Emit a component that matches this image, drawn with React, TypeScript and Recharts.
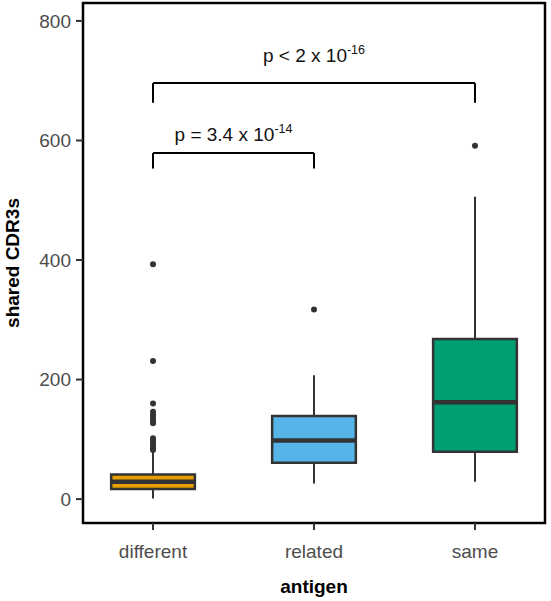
import React from "react";
import {
  ComposedChart,
  ReferenceArea,
  ReferenceLine,
  Scatter,
  XAxis,
  YAxis,
} from "recharts";

// box statistics per antigen group
const categories = ["different", "related", "same"];
const lowerWhisker = [1, 26, 29];
const q1 = [17, 61, 79];
const median = [29, 98, 162];
const q3 = [41, 139, 268];
const upperWhisker = [79, 207, 506];

const outliersDifferent = [393, 231, 160, 146, 141, 136, 131, 127, 102, 97, 93, 89, 85, 82];
const outliersRelated = [317];
const outliersSame = [591];

const yTicks = [0, 200, 400, 600, 800];

// significance brackets
const bracketFrom = [1, 1];
const bracketTo = [2, 3];
const bracketY = [579, 696];
const bracketTip = [553, 663];
const pText = ["p = 3.4 x 10", "p < 2 x 10"];
const pExponent = ["-14", "-16"];

const fills = ["#E69F00", "#56B4E9", "#009E73"];
const INK = "#333333";
const HALF = 0.26;
const labelGap = [12, 21];

const outlierPoints = [outliersDifferent, outliersRelated, outliersSame].flatMap(
  (vals, i) => vals.map((v) => ({ x: i + 1, y: v }))
);

function BracketLabel(props: any) {
  const { viewBox, text, exp, gap } = props;
  if (!viewBox) return null;
  const cx = viewBox.x + viewBox.width / 2;
  const y = viewBox.y - gap;
  return (
    <text x={cx} y={y} textAnchor="middle" fontSize={19} fill="#111">
      <tspan>{text}</tspan>
      <tspan dy={-8} fontSize={12.5}>
        {exp}
      </tspan>
    </text>
  );
}

const Dot = (props: any) => <circle cx={props.cx} cy={props.cy} r={3} fill={INK} />;

export default function App() {
  return (
    <div
      style={{
        position: "absolute",
        left: 0,
        top: 0,
        background: "#fff",
        fontFamily: "'Liberation Sans', Arial, sans-serif",
      }}
    >
      <ComposedChart width={551} height={601} margin={{ top: 3, right: 6, bottom: 0, left: 0 }}>
        <XAxis
          type="number"
          dataKey="x"
          domain={[0.565, 3.435]}
          ticks={[1, 2, 3]}
          tickFormatter={(v) => categories[v - 1]}
          height={78}
          axisLine={false}
          tickSize={7}
          tickMargin={15}
          tickLine={{ stroke: INK, strokeWidth: 2 }}
          tick={{ fill: "#4d4d4d", fontSize: 19 }}
          label={{
            value: "antigen",
            position: "insideBottom",
            offset: 8,
            style: { fontWeight: "bold", fontSize: 19, fill: "#000" },
          }}
        />
        <YAxis
          type="number"
          domain={[-40, 830]}
          ticks={yTicks}
          width={83}
          axisLine={false}
          tickSize={7}
          tickMargin={5}
          tickLine={{ stroke: INK, strokeWidth: 2 }}
          tick={{ fill: "#4d4d4d", fontSize: 19 }}
          label={{
            value: "shared CDR3s",
            angle: -90,
            position: "insideLeft",
            offset: 12,
            style: { textAnchor: "middle", fontWeight: "bold", fontSize: 19, fill: "#000" },
          }}
        />

        {/* panel border */}
        <ReferenceArea x1={0.565} x2={3.435} y1={-40} y2={830} fill="none" stroke="#000" strokeWidth={2.5} fillOpacity={0} />

        {categories.map((c, i) => (
          <ReferenceLine
            key={"wu" + c}
            segment={[
              { x: i + 1, y: q3[i] },
              { x: i + 1, y: upperWhisker[i] },
            ]}
            stroke={INK}
            strokeWidth={2}
          />
        ))}
        {categories.map((c, i) => (
          <ReferenceLine
            key={"wl" + c}
            segment={[
              { x: i + 1, y: lowerWhisker[i] },
              { x: i + 1, y: q1[i] },
            ]}
            stroke={INK}
            strokeWidth={2}
          />
        ))}
        {categories.map((c, i) => (
          <ReferenceArea
            key={"box" + c}
            x1={i + 1 - HALF}
            x2={i + 1 + HALF}
            y1={q1[i]}
            y2={q3[i]}
            fill={fills[i]}
            fillOpacity={1}
            stroke={INK}
            strokeWidth={2.5}
          />
        ))}
        {categories.map((c, i) => (
          <ReferenceLine
            key={"med" + c}
            segment={[
              { x: i + 1 - HALF, y: median[i] },
              { x: i + 1 + HALF, y: median[i] },
            ]}
            stroke={INK}
            strokeWidth={4.5}
          />
        ))}

        {bracketFrom.map((from, k) => (
          <React.Fragment key={"br" + k}>
            <ReferenceLine
              segment={[
                { x: from, y: bracketY[k] },
                { x: bracketTo[k], y: bracketY[k] },
              ]}
              stroke="#000"
              strokeWidth={2}
              label={<BracketLabel text={pText[k]} exp={pExponent[k]} gap={labelGap[k]} />}
            />
            <ReferenceLine
              segment={[
                { x: from, y: bracketTip[k] },
                { x: from, y: bracketY[k] },
              ]}
              stroke="#000"
              strokeWidth={2}
            />
            <ReferenceLine
              segment={[
                { x: bracketTo[k], y: bracketTip[k] },
                { x: bracketTo[k], y: bracketY[k] },
              ]}
              stroke="#000"
              strokeWidth={2}
            />
          </React.Fragment>
        ))}

        <Scatter data={outlierPoints} dataKey="y" shape={Dot} isAnimationActive={false} />
      </ComposedChart>
    </div>
  );
}
